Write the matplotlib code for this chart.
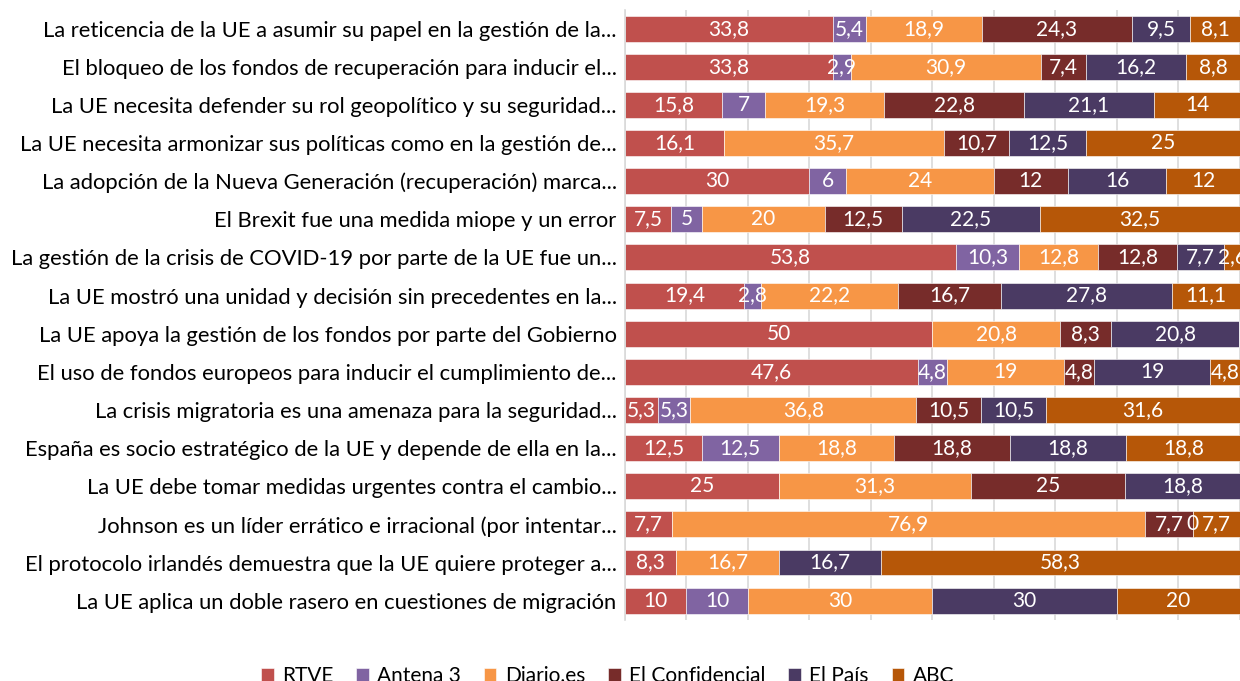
import matplotlib
matplotlib.use("Agg")
import matplotlib.pyplot as plt
import numpy as np

plt.rcParams['font.family'] = ['Lato', 'DejaVu Sans']

categories = [
    "La reticencia de la UE a asumir su papel en la gestión de la...",
    "El bloqueo de los fondos de recuperación para inducir el...",
    "La UE necesita defender su rol geopolítico y su seguridad...",
    "La UE necesita armonizar sus políticas como en la gestión de...",
    "La adopción de la Nueva Generación (recuperación) marca...",
    "El Brexit fue una medida miope y un error",
    "La gestión de la crisis de COVID-19 por parte de la UE fue un...",
    "La UE mostró una unidad y decisión sin precedentes en la...",
    "La UE apoya la gestión de los fondos por parte del Gobierno",
    "El uso de fondos europeos para inducir el cumplimiento de...",
    "La crisis migratoria es una amenaza para la seguridad...",
    "España es socio estratégico de la UE y depende de ella en la...",
    "La UE debe tomar medidas urgentes contra el cambio...",
    "Johnson es un líder errático e irracional (por intentar...",
    "El protocolo irlandés demuestra que la UE quiere proteger a...",
    "La UE aplica un doble rasero en cuestiones de migración",
]

media = ["RTVE", "Antena 3", "Diario.es", "El Confidencial", "El País", "ABC"]

# None = no value in that cell (no label drawn)
rtve = [33.8, 33.8, 15.8, 16.1, 30, 7.5, 53.8, 19.4, 50, 47.6, 5.3, 12.5, 25, 7.7, 8.3, 10]
antena3 = [5.4, 2.9, 7, None, 6, 5, 10.3, 2.8, None, 4.8, 5.3, 12.5, None, None, None, 10]
diario = [18.9, 30.9, 19.3, 35.7, 24, 20, 12.8, 22.2, 20.8, 19, 36.8, 18.8, 31.3, 76.9, 16.7, 30]
confidencial = [24.3, 7.4, 22.8, 10.7, 12, 12.5, 12.8, 16.7, 8.3, 4.8, 10.5, 18.8, 25, 7.7, None, None]
pais = [9.5, 16.2, 21.1, 12.5, 16, 22.5, 7.7, 27.8, 20.8, 19, 10.5, 18.8, 18.8, 0, 16.7, 30]
abc = [8.1, 8.8, 14, 25, 12, 32.5, 2.6, 11.1, None, 4.8, 31.6, 18.8, None, 7.7, 58.3, 20]

colors = ["#C0504D", "#8064A2", "#F79646", "#772C2A", "#4A3A63", "#B65708"]

series = [rtve, antena3, diario, confidencial, pais, abc]

fig = plt.figure(figsize=(12.4, 6.81), dpi=100)
ax = fig.add_axes([0.504, 0.09, 0.496, 0.896])

y = np.arange(len(categories))
left = np.zeros(len(categories))
for name, vals, col in zip(media, series, colors):
    v = np.array([0 if x is None else x for x in vals], dtype=float)
    ax.barh(y, v, left=left, height=0.68, color=col, label=name,
            edgecolor="white", linewidth=0.4, zorder=2)
    for i, x in enumerate(vals):
        if x is None:
            continue
        txt = ("%g" % x).replace(".", ",")
        ax.text(left[i] + v[i] / 2, y[i], txt, ha="center", va="center",
                color="white", fontsize=15, zorder=3)
    left += v

ax.set_xlim(0, 100)
ax.set_ylim(len(categories) - 0.5, -0.5)
ax.set_xticks(np.arange(0, 101, 10))
ax.tick_params(axis="x", length=0, labelbottom=False)
ax.tick_params(axis="y", length=0, labelsize=15.8, pad=6)
ax.set_yticks(y)
ax.set_yticklabels(categories)
ax.xaxis.grid(True, color="#D9D9D9", linewidth=1.2, zorder=0)
ax.set_axisbelow(True)
for s in ["top", "right", "bottom"]:
    ax.spines[s].set_visible(False)
ax.spines["left"].set_color("#D9D9D9")
ax.spines["left"].set_linewidth(1.2)

fig.legend(loc="center", bbox_to_anchor=(0.49, 0.008), ncol=6, frameon=False,
           fontsize=15, handlelength=0.6, handleheight=0.6, columnspacing=1.1,
           handletextpad=0.4)

fig.savefig("out.png", dpi=100)
